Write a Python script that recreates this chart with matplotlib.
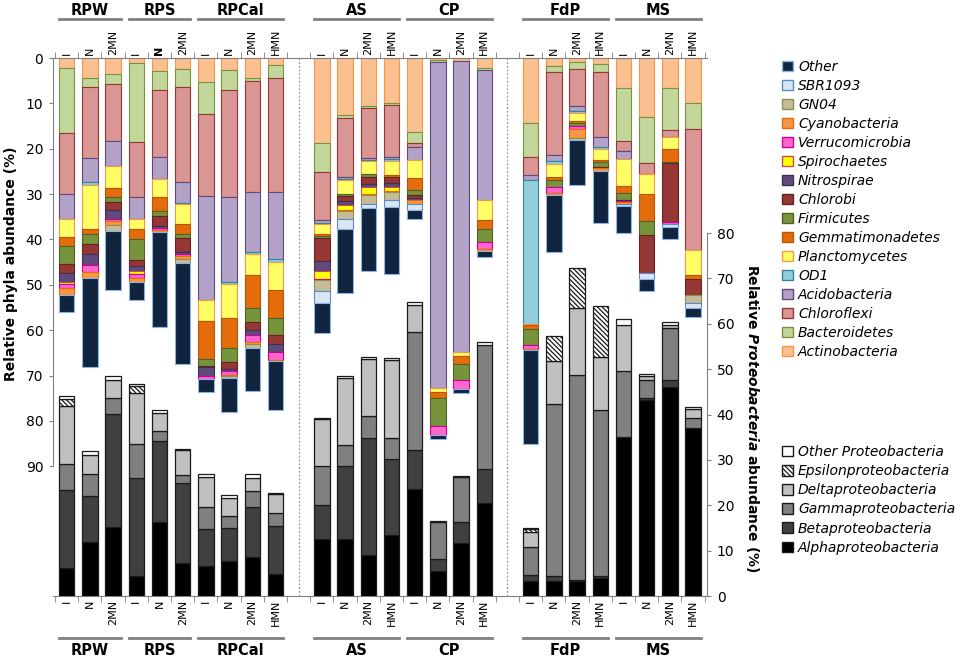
import numpy as np
import matplotlib
matplotlib.use('Agg')
import matplotlib.pyplot as plt
import matplotlib.patches as mpatches
import matplotlib.transforms as mtransforms

plt.rcParams['font.family'] = ['DejaVu Sans']
plt.rcParams['mathtext.fontset'] = 'custom'
plt.rcParams['mathtext.it'] = 'DejaVu Sans:italic:bold'
plt.rcParams['hatch.linewidth'] = 0.9

# sites and treatments (26 samples)
sites = ['RPW', 'RPS', 'RPCal', 'AS', 'CP', 'FdP', 'MS']
site_sizes = [3, 3, 4, 4, 4, 4, 4]
treatments = ['I', 'N', '2MN',
              'I', 'N', '2MN',
              'I', 'N', '2MN', 'HMN',
              'I', 'N', '2MN', 'HMN',
              'I', 'N', '2MN', 'HMN',
              'I', 'N', '2MN', 'HMN',
              'I', 'N', '2MN', 'HMN']

# relative phyla abundance (%), stacked from the top down
actinobacteria = [2.3, 4.3, 3.5, 1.2, 2.8, 2.5, 5.2, 2.6, 4.5, 1.5, 18.8, 12.6, 10.6, 9.85, 16.25, 0.45, 0.65, 2.3, 14.3, 1.75, 0.8, 1.4, 6.7, 13.1, 6.7, 9.85]
bacteroidetes = [14.2, 2.0, 2.2, 17.3, 4.3, 4.0, 7.2, 4.5, 0.5, 2.8, 6.3, 0.6, 0.4, 0.45, 2.45, 0.35, 0, 0.35, 7.6, 1.25, 1.7, 1.6, 11.5, 10.1, 9.2, 5.85]
chloroflexi = [13.4, 15.8, 12.5, 12.2, 14.8, 20.9, 18.0, 23.5, 24.5, 25.2, 10.6, 13.1, 11.1, 11.6, 1.0, 0, 0, 0, 3.9, 18.4, 8.1, 14.35, 2.2, 2.4, 1.6, 26.7]
acidobacteria = [5.5, 5.2, 5.6, 4.7, 4.8, 4.5, 23.0, 18.7, 13.2, 14.7, 0.6, 0.3, 0.35, 0.35, 2.8, 71.9, 64.15, 28.55, 1.1, 1.2, 1.1, 2.25, 1.9, 0, 0, 0]
od1 = [0, 0.7, 0, 0, 0, 0.3, 0, 0.6, 0.5, 0.7, 0.2, 0.3, 0.35, 0.35, 0, 0, 0, 0, 31.7, 0.8, 0.5, 0.5, 0, 0, 0, 0]
planctomycetes = [4.0, 9.8, 4.9, 2.2, 4.0, 4.3, 4.6, 7.5, 4.7, 6.3, 2.3, 3.0, 2.8, 3.2, 4.0, 1.0, 1.0, 4.5, 0.3, 2.9, 1.6, 2.4, 5.9, 4.4, 2.6, 5.5]
gemmatimonadetes = [2.0, 1.1, 1.9, 2.2, 3.0, 2.2, 8.3, 6.5, 7.3, 6.2, 0.4, 0, 0, 0.5, 2.5, 1.2, 1.6, 1.9, 0.8, 0.5, 0.6, 0.4, 1.5, 5.9, 2.8, 0.8]
firmicutes = [4.1, 2.2, 1.1, 4.8, 1.2, 0.9, 1.7, 3.1, 2.9, 3.7, 0.4, 0.5, 0.7, 0, 1.2, 6.3, 3.5, 2.9, 3.6, 1.6, 0.6, 1.1, 1.5, 3.1, 0.3, 0]
chlorobi = [2.0, 2.1, 1.7, 1.3, 2.2, 3.1, 0.2, 1.5, 1.8, 1.9, 5.2, 1.1, 1.5, 1.2, 0.6, 0, 0, 0, 0, 0, 0, 0.3, 0.3, 8.5, 12.9, 3.6]
nitrospirae = [1.8, 2.5, 2.0, 1.0, 0.4, 0.5, 2.0, 0.5, 1.2, 1.8, 2.1, 0.9, 0.7, 0.9, 0.5, 0, 0, 0, 0, 0, 0, 0, 0, 0, 0, 0]
spirochaetes = [0.5, 0, 0, 0.7, 0, 0, 0, 0, 0, 0, 1.8, 1.0, 1.5, 0.9, 0, 0, 0, 0, 0, 0, 0, 0, 0, 0, 0, 0]
verrucomicrobia = [0.8, 1.4, 0.5, 1.0, 0.4, 0.5, 0.5, 0.8, 1.5, 1.7, 0.3, 0, 0, 0, 0, 2.0, 2.0, 1.5, 0.9, 1.3, 0.6, 0, 0.3, 0, 0.4, 0]
cyanobacteria = [1.7, 1.5, 0.9, 0.7, 0.4, 0.5, 0, 0.3, 0.5, 0.3, 0, 0.3, 0.2, 0.3, 0.8, 0, 0, 0.5, 0.2, 0.5, 2.1, 0.6, 0.3, 0, 0, 0]
gn04 = [0, 0, 1.3, 0, 0, 1.1, 0, 0.4, 0.8, 0, 2.3, 1.9, 1.9, 1.6, 0, 0, 0, 0, 0, 0, 0.4, 0, 0, 0, 0, 1.7]
sbr1093 = [0, 0, 0, 0, 0, 0, 0, 0, 0, 0, 2.6, 2.1, 0.9, 1.6, 1.4, 0, 0, 0, 0, 0, 0, 0, 0.5, 1.25, 0.7, 1.2]
other = [3.7, 19.5, 13.1, 4.1, 20.9, 22.2, 3.0, 7.6, 9.5, 10.8, 6.7, 14.1, 13.9, 14.8, 1.9, 0.8, 1.0, 1.3, 20.6, 12.5, 9.8, 11.4, 5.9, 2.55, 2.7, 1.9]

# relative Proteobacteria abundance (%), stacked from the bottom up
alpha = [6.1, 12.0, 15.3, 4.3, 16.4, 7.35, 6.7, 7.8, 8.7, 4.8, 12.6, 12.6, 9.0, 13.5, 23.6, 5.6, 11.6, 20.4, 3.3, 3.3, 3.3, 3.9, 35.0, 43.2, 46.0, 37.0]
beta = [17.3, 10.1, 24.8, 21.7, 17.8, 17.5, 8.1, 7.3, 10.9, 10.7, 7.5, 16.1, 25.8, 16.6, 8.6, 2.6, 4.8, 7.6, 1.3, 1.1, 0.2, 0.5, 0, 0.5, 1.6, 0]
gamma = [5.6, 4.8, 3.65, 7.5, 2.2, 1.8, 4.8, 2.6, 3.6, 2.9, 8.65, 4.5, 4.8, 4.8, 25.9, 8.05, 9.8, 27.4, 6.3, 37.95, 45.25, 36.5, 14.6, 3.9, 11.4, 2.2]
delta = [12.8, 4.2, 3.85, 11.2, 3.9, 5.5, 6.7, 4.0, 2.9, 4.0, 10.25, 14.8, 12.7, 17.2, 6.1, 0, 0, 0, 3.1, 9.35, 14.75, 11.7, 10.2, 0.9, 0.8, 2.0]
epsilon = [1.6, 0, 0, 1.6, 0, 0, 0, 0, 0, 0, 0, 0, 0, 0, 0, 0, 0, 0, 0.7, 5.65, 8.7, 11.4, 0, 0, 0, 0]
other_proteo = [0.6, 0.9, 1.0, 0.5, 0.6, 0.2, 0.5, 0.6, 0.8, 0.2, 0.3, 0.4, 0.3, 0.3, 0.6, 0.3, 0.3, 0.7, 0.4, 0, 0, 0, 1.3, 0.4, 0.5, 0.4]

phyla = [
    ('Actinobacteria', actinobacteria, '#FAC090', '#F79646'),
    ('Bacteroidetes', bacteroidetes, '#C3D69B', '#77933C'),
    ('Chloroflexi', chloroflexi, '#D99694', '#953735'),
    ('Acidobacteria', acidobacteria, '#B3A2C7', '#604A7B'),
    ('OD1', od1, '#93CDDD', '#31859C'),
    ('Planctomycetes', planctomycetes, '#FFFF66', '#F79646'),
    ('Gemmatimonadetes', gemmatimonadetes, '#E46C0A', '#B65708'),
    ('Firmicutes', firmicutes, '#77933C', '#4F6228'),
    ('Chlorobi', chlorobi, '#953735', '#632523'),
    ('Nitrospirae', nitrospirae, '#604A7B', '#3F3151'),
    ('Spirochaetes', spirochaetes, '#FFFF00', '#C0504D'),
    ('Verrucomicrobia', verrucomicrobia, '#FF66CC', '#CC0099'),
    ('Cyanobacteria', cyanobacteria, '#F79646', '#E46C0A'),
    ('GN04', gn04, '#C4BD97', '#948A54'),
    ('SBR1093', sbr1093, '#DCE6F2', '#558ED5'),
    ('Other', other, '#10243E', '#8DB3E2'),
]

proteo = [
    ('Alphaproteobacteria', alpha, '#000000', None),
    ('Betaproteobacteria', beta, '#404040', None),
    ('Gammaproteobacteria', gamma, '#808080', None),
    ('Deltaproteobacteria', delta, '#C0C0C0', None),
    ('Epsilonproteobacteria', epsilon, '#FFFFFF', '\\' * 7),
    ('Other Proteobacteria', other_proteo, '#FFFFFF', None),
]

# slot positions, with an empty slot after RPCal and after CP
gap_after = ['RPCal', 'CP']
pos = []
site_slots = []
dividers = []
k = 0
for site, n in zip(sites, site_sizes):
    slots = list(range(k, k + n))
    pos += slots
    site_slots.append(slots)
    k += n
    if site in gap_after:
        dividers.append(k)
        k += 1
pos = np.array(pos)

YMAX = 118.6
BAR_W = 0.66
GRAY = '#808080'

fig = plt.figure(figsize=(9.64, 6.6), dpi=100)
ax = fig.add_axes([53 / 964, 64 / 660, 654 / 964, 538 / 660])
ax2 = ax.twinx()

# phyla, hanging from the top axis
cum = np.zeros(len(pos))
for name, vals, fc, ec in phyla:
    vals = np.array(vals, dtype=float)
    m = vals > 0
    ax.bar(pos[m], vals[m], BAR_W, bottom=cum[m], color=fc, edgecolor=ec, linewidth=0.8)
    cum += vals

# proteobacteria, standing on the bottom axis
cum = np.zeros(len(pos))
for name, vals, fc, hatch in proteo:
    vals = np.array(vals, dtype=float)
    m = vals > 0
    ax2.bar(pos[m], vals[m], BAR_W, bottom=cum[m], color=fc, edgecolor='#1A1A1A',
            linewidth=0.9, hatch=hatch)
    cum += vals

ax.set_xlim(-0.59, 27.6)
ax.set_ylim(YMAX, 0)
ax2.set_ylim(0, YMAX)

for d in dividers:
    ax.axvline(d, color='#9A9A9A', ls=(0, (1.5, 1.5)), lw=0.9)

# x axis: labels at the bars on top and bottom, tick marks between bars
ax.set_xticks(pos)
ax.set_xticklabels(treatments)
ax.set_xticks(np.arange(-0.5, 28, 1), minor=True)
ax.tick_params(axis='x', which='major', length=0, top=True, labeltop=True,
               bottom=True, labelbottom=True, labelrotation=90, labelsize=8, pad=2.5)
ax.tick_params(axis='x', which='minor', length=4, top=True, bottom=True, color=GRAY)
ax.xaxis.get_major_ticks()[4].label2.set_fontweight('bold')

ax.set_yticks(range(0, 91, 10))
ax.tick_params(axis='y', length=3, color=GRAY, labelsize=10, pad=4)
ax2.set_yticks(range(0, 81, 10))
ax2.tick_params(axis='y', length=3, color=GRAY, labelsize=10, pad=4)

ax.spines['right'].set_visible(False)
ax.spines['left'].set_bounds(0, 90)
for s in ['left', 'top', 'bottom']:
    ax2.spines[s].set_visible(False)
ax2.spines['right'].set_bounds(0, 80)
for sp in list(ax.spines.values()) + list(ax2.spines.values()):
    sp.set_color(GRAY)

# site labels above and below
blend = mtransforms.blended_transform_factory(ax.transData, ax.transAxes)
for site, slots in zip(sites, site_slots):
    cx = np.mean(slots)
    x0, x1 = slots[0] - 0.33, slots[-1] + 0.33
    for ly, ty in [(1.0725, 1.088), (-0.0787, -0.102)]:
        ax.plot([x0, x1], [ly, ly], transform=blend, color=GRAY, lw=2, clip_on=False)
        ax.text(cx, ty, site, transform=blend, ha='center', va='center',
                fontsize=10.5, fontweight='bold')

fig.text(11 / 964, 1 - 264 / 660, 'Relative phyla abundance (%)', rotation=90,
         ha='center', va='center', fontsize=10, fontweight='bold')
fig.text(752 / 964, 1 - 418 / 660, r'Relative $\mathit{Proteobacteria}$ abundance (%)',
         rotation=270, ha='center', va='center', fontsize=10, fontweight='bold')

# legends
h1 = [mpatches.Patch(facecolor=fc, edgecolor=ec, lw=1) for _, _, fc, ec in phyla][::-1]
l1 = [p[0] for p in phyla][::-1]
fig.legend(h1, l1, loc='upper left', bbox_to_anchor=(782 / 964, 1 - 60 / 660),
           frameon=False, prop={'style': 'italic', 'size': 10}, handlelength=0.8,
           handleheight=0.8, handletextpad=0.35, labelspacing=0.36, borderpad=0,
           borderaxespad=0)

h2 = [mpatches.Patch(facecolor=fc, edgecolor='#1A1A1A', hatch=h, lw=1) for _, _, fc, h in proteo][::-1]
l2 = [p[0] for p in proteo][::-1]
fig.legend(h2, l2, loc='upper left', bbox_to_anchor=(782 / 964, 1 - 445 / 660),
           frameon=False, prop={'style': 'italic', 'size': 10}, handlelength=0.8,
           handleheight=0.8, handletextpad=0.35, labelspacing=0.37, borderpad=0,
           borderaxespad=0)

fig.savefig('out.png', dpi=100)
